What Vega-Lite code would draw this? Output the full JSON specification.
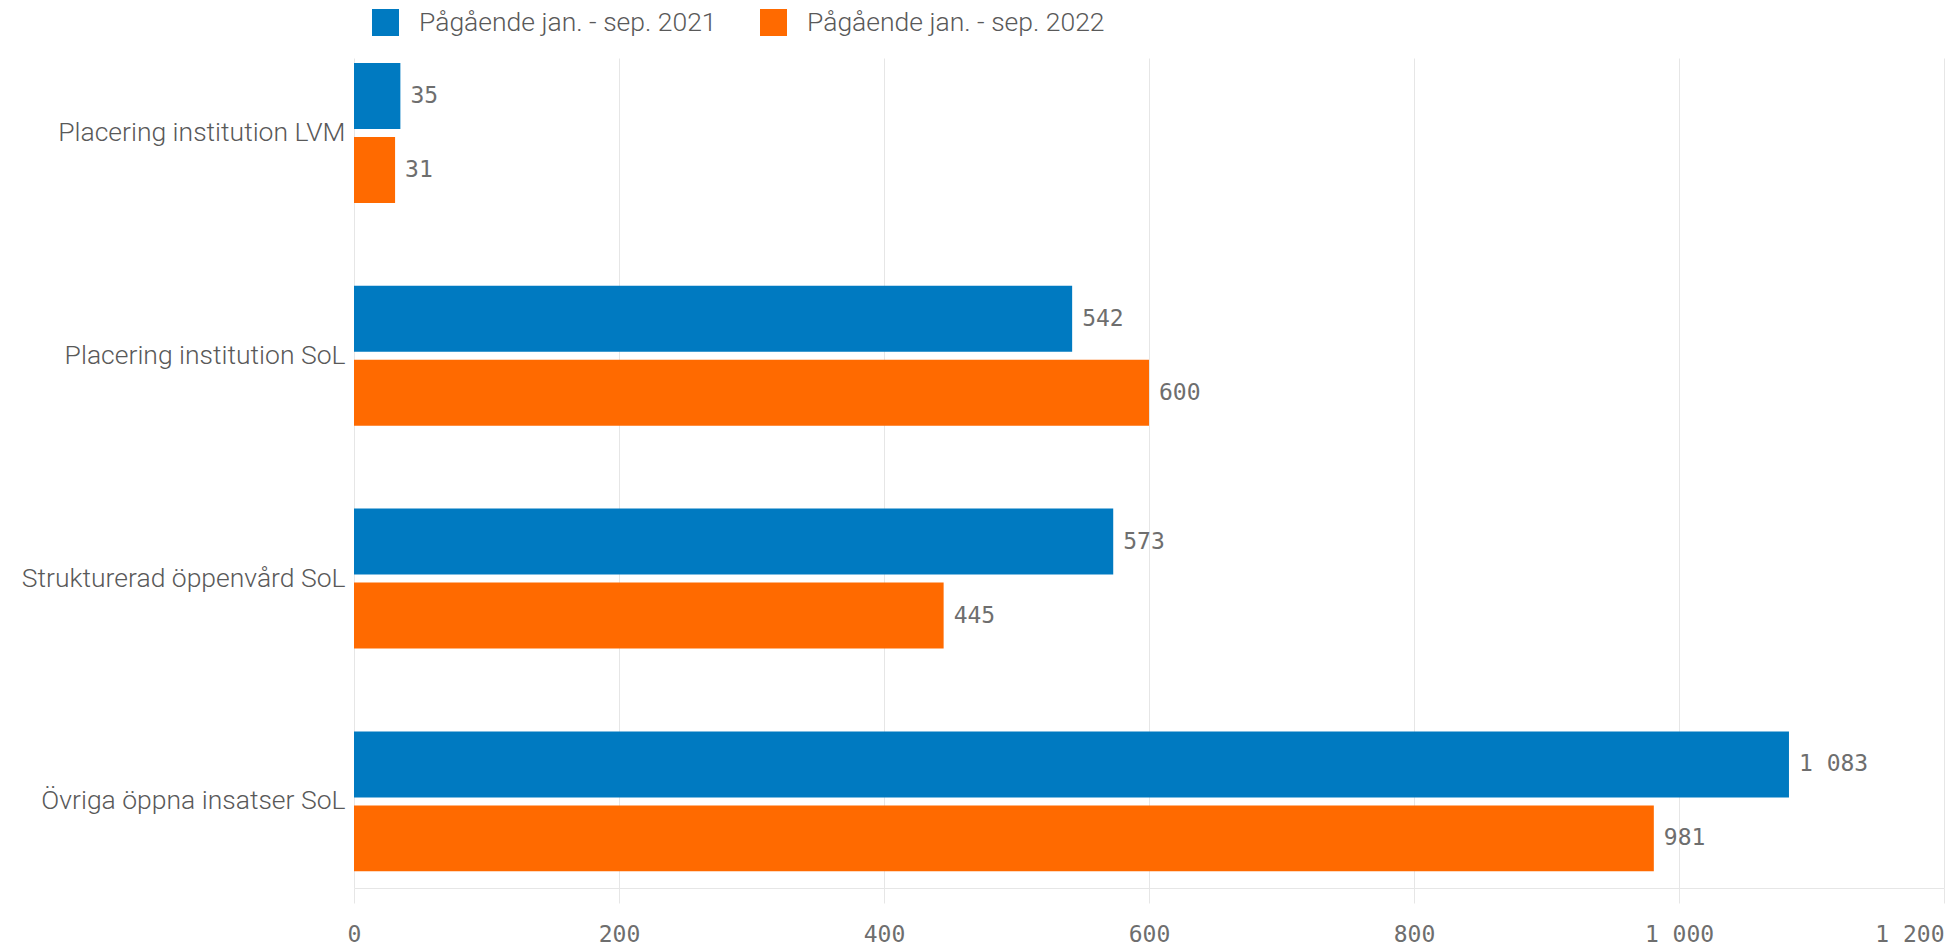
{
  "$schema": "https://vega.github.io/schema/vega-lite/v6.json",
  "autosize": "none",
  "width": 1590,
  "height": 830,
  "padding": {"left": 354, "top": 58, "right": 15, "bottom": 59},
  "background": "#ffffff",
  "config": {
    "view": {"stroke": null},
    "locale": {
      "number": {"decimal": ",", "thousands": "\u2009", "grouping": [3], "currency": ["", " kr"]}
    }
  },
  "data": {
    "values": [
      {"kategori": "Placering institution LVM", "period": "Pågående jan. - sep. 2021", "antal": 35},
      {"kategori": "Placering institution LVM", "period": "Pågående jan. - sep. 2022", "antal": 31},
      {"kategori": "Placering institution SoL", "period": "Pågående jan. - sep. 2021", "antal": 542},
      {"kategori": "Placering institution SoL", "period": "Pågående jan. - sep. 2022", "antal": 600},
      {"kategori": "Strukturerad öppenvård SoL", "period": "Pågående jan. - sep. 2021", "antal": 573},
      {"kategori": "Strukturerad öppenvård SoL", "period": "Pågående jan. - sep. 2022", "antal": 445},
      {"kategori": "Övriga öppna insatser SoL", "period": "Pågående jan. - sep. 2021", "antal": 1083},
      {"kategori": "Övriga öppna insatser SoL", "period": "Pågående jan. - sep. 2022", "antal": 981}
    ]
  },
  "encoding": {
    "y": {
      "field": "kategori",
      "type": "nominal",
      "sort": ["Placering institution LVM", "Placering institution SoL", "Strukturerad öppenvård SoL", "Övriga öppna insatser SoL"],
      "scale": {"paddingInner": 0.372, "paddingOuter": 0.0485, "align": 0.23},
      "axis": {
        "title": null,
        "domain": false,
        "ticks": false,
        "grid": false,
        "labelFont": "Roboto",
        "labelFontWeight": 300,
        "labelFontSize": 26.5,
        "labelColor": "#595959",
        "labelPadding": 9,
        "labelLimit": 400
      }
    },
    "yOffset": {
      "field": "period",
      "type": "nominal",
      "sort": ["Pågående jan. - sep. 2021", "Pågående jan. - sep. 2022"],
      "scale": {"paddingInner": 0.108, "paddingOuter": 0}
    },
    "x": {
      "field": "antal",
      "type": "quantitative",
      "scale": {"domain": [0, 1200], "nice": false},
      "axis": {
        "title": null,
        "values": [0, 200, 400, 600, 800, 1000, 1200],
        "format": ",d",
        "grid": true,
        "gridColor": "#e6e6e6",
        "domain": true,
        "domainColor": "#e6e6e6",
        "ticks": true,
        "tickColor": "#e6e6e6",
        "tickSize": 15,
        "labelFont": "DejaVu Sans Mono",
        "labelFontSize": 23,
        "labelColor": "#6e6e6e",
        "labelPadding": 20,
        "labelAlign": {"condition": {"test": "datum.value == 1200", "value": "right"}, "value": "center"}
      }
    }
  },
  "layer": [
    {
      "mark": {"type": "bar"},
      "encoding": {
        "color": {
          "field": "period",
          "type": "nominal",
          "scale": {
            "domain": ["Pågående jan. - sep. 2021", "Pågående jan. - sep. 2022"],
            "range": ["#007ac1", "#ff6a00"]
          },
          "legend": {
            "title": null,
            "orient": "none",
            "legendX": 18,
            "legendY": -49,
            "direction": "horizontal",
            "symbolType": "square",
            "symbolSize": 729,
            "symbolStrokeWidth": 0,
            "labelFont": "Roboto",
            "labelFontWeight": 300,
            "labelFontSize": 26.5,
            "labelColor": "#595959",
            "labelOffset": 20,
            "columnPadding": 43,
            "padding": 0,
            "labelLimit": 500
          }
        }
      }
    },
    {
      "mark": {
        "type": "text",
        "align": "left",
        "baseline": "middle",
        "dx": 10,
        "font": "DejaVu Sans Mono",
        "fontSize": 23,
        "color": "#6e6e6e"
      },
      "encoding": {
        "text": {"field": "antal", "type": "quantitative", "format": ",d"}
      }
    }
  ]
}
